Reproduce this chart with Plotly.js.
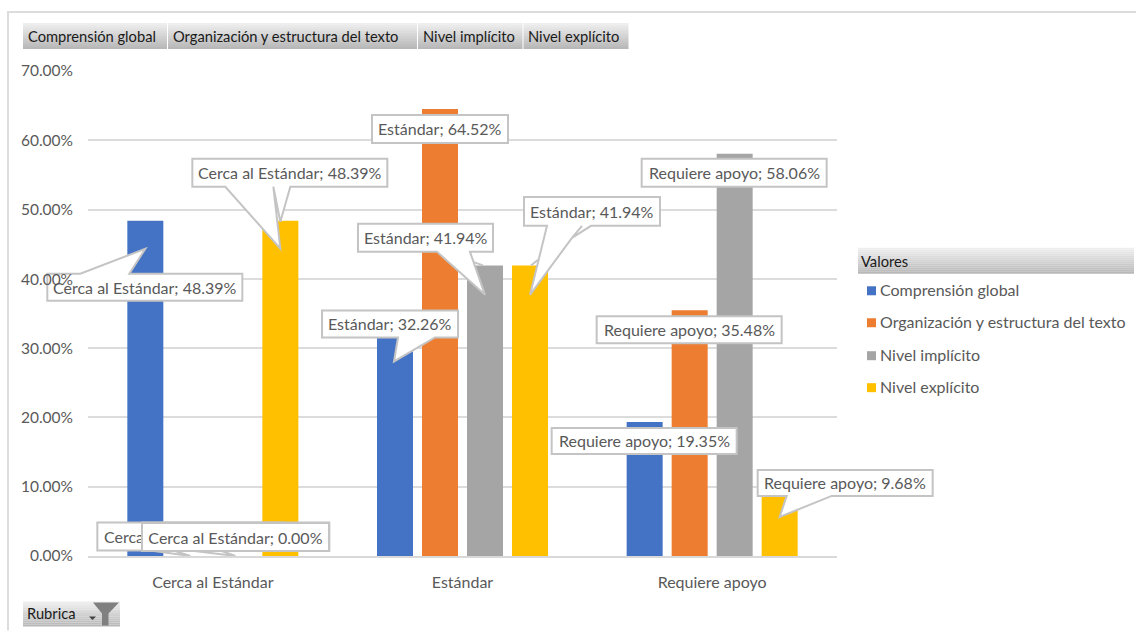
<!DOCTYPE html>
<html>
<head>
<meta charset="utf-8">
<script src="https://cdn.plot.ly/plotly-3.0.1.min.js"></script>
<style>html,body{margin:0;padding:0;background:#fff;overflow:hidden}#chart{width:1136px;height:631px}</style>
</head>
<body>
<div id="chart"></div>
<script>
// Rubric categories and per-series percentages
const categories = ['Cerca al Estándar', 'Estándar', 'Requiere apoyo'];
const seriesNames = ['Comprensión global', 'Organización y estructura del texto', 'Nivel implícito', 'Nivel explícito'];
const comprension = [48.39, 32.26, 19.35];
const organizacion = [0, 64.52, 35.48];
const implicito = [0, 41.94, 58.06];
const explicito = [48.39, 41.94, 9.68];
const yTicks = [0, 10, 20, 30, 40, 50, 60, 70];
const seriesColors = ['#4472c4', '#ed7d31', '#a5a5a5', '#ffc000'];

const allValues = [comprension, organizacion, implicito, explicito];
const fontFamily = 'Lato, "Open Sans", sans-serif';
const grey = '#595959';
const edge = '#c4c4c4';
const calloutSize = 16;

// Plot-area box in page pixels
const plot = {l: 88, r: 837, t: 71, b: 556.5};
const toPaperX = x => (x - plot.l) / (plot.r - plot.l);
const toPaperY = y => (plot.b - y) / (plot.b - plot.t);
const barGap = 0.279, groupGap = 0.2;
const barCenter = (c, s) => (c + 0.5 + (s - 1.5) * (1 - barGap) / 4) / categories.length;

// Callouts: series, category, box [left, right, top, bottom], pointer points on the
// top or bottom edge and an optional loose leader stroke, all as pixel offsets from
// the top-centre of the bar (y grows downwards here).
const callouts = [
  {s: 0, c: 0, box: [-98, 97, 53, 80], top: [[-65, 53], [0, 28], [-16, 53]]},
  {s: 3, c: 0, box: [-88, 107, -62, -34], bottom: [[10, -34], [0, 1], [-7, -34], [0, 28], [-55, -34]]},
  {s: 1, c: 0, box: [-93, 94, -33.5, -5.5], bottom: [[-17, -5.5], [0, 0], [-40, -5.5]]},
  {s: 2, c: 0, box: [-93, 94, -33.5, -5.5], bottom: [[-15, -5.5], [0, 0], [-45, -5.5]], opaque: true},
  {s: 0, c: 1, box: [-73, 63, -22, 5], bottom: [[40, 5], [-1, 29], [3, 5]]},
  {s: 1, c: 1, box: [-68, 68, 6, 34]},
  {s: 2, c: 1, box: [-127, 8, -41.6, -13.6], bottom: [[-15, -13.6], [0, 29.4], [-48, -13.6]], leader: [[-12, -3.6], [-2, 0]]},
  {s: 3, c: 1, box: [-6, 130, -68.3, -39.6], bottom: [[61, -39.6], [42, -27.6], [52, -39.6], [42, -27.6], [0, 29.4], [17, -39.6]], leader: [[1, 0], [8, -5.6]]},
  {s: 0, c: 2, box: [-93, 92, 6, 32]},
  {s: 1, c: 2, box: [-93, 92, 6, 33]},
  {s: 2, c: 2, box: [-93, 92, 5, 33]},
  {s: 3, c: 2, box: [-22, 153, -19, 7], bottom: [[52, 7], [0, 28], [7, 7]]}
];

const shapes = [];
const annotations = [];

// Sheet frame along the top and left edges
shapes.push({type: 'path', xref: 'paper', yref: 'paper',
  path: `M${toPaperX(1136)},${toPaperY(12)}L${toPaperX(8)},${toPaperY(12)}L${toPaperX(8)},${toPaperY(631)}`,
  line: {color: '#dcdcdc', width: 2}, layer: 'below'});

function gradientButton(x0, x1, y0, y1) {
  const bands = 13;
  for (let i = 0; i < bands; i++) {
    const t = i / (bands - 1);
    const v = Math.round(238 - t * 54);
    shapes.push({type: 'rect', xref: 'paper', yref: 'paper', layer: 'below',
      x0: toPaperX(x0), x1: toPaperX(x1),
      y0: toPaperY(y0 + (y1 - y0) * i / bands), y1: toPaperY(y0 + (y1 - y0) * (i + 1) / bands),
      fillcolor: `rgb(${v},${v},${v})`, line: {width: 0}});
  }
}
function plainText(text, x, y, color, size) {
  annotations.push({text, xref: 'paper', yref: 'paper', x: toPaperX(x), y: toPaperY(y),
    xanchor: 'left', yanchor: 'middle', showarrow: false, borderpad: 0,
    font: {family: fontFamily, size, color}});
}

// Pivot field buttons above the plot
const fieldButtons = [[23, 167], [168, 417], [418, 522.5], [523.5, 628.5]];
fieldButtons.forEach((b, i) => {
  gradientButton(b[0], b[1], 23, 49);
  plainText(seriesNames[i], b[0] + 3.5, 36, '#1a1a1a', 14.7);
});

// Legend header and entries
gradientButton(858, 1134, 248, 274);
plainText('Valores', 860, 261, '#1a1a1a', 14.7);
const legendRows = [291, 323, 356, 388];
seriesNames.forEach((name, i) => {
  const y = legendRows[i];
  shapes.push({type: 'rect', xref: 'paper', yref: 'paper',
    x0: toPaperX(867), x1: toPaperX(876), y0: toPaperY(y - 4.5), y1: toPaperY(y + 4.5),
    fillcolor: seriesColors[i], line: {width: 0}});
  plainText(name, 879, y - 1, grey, 16);
});

// Report filter button with its drop-down mark and funnel
gradientButton(23, 120, 602, 627);
plainText('Rubrica', 26, 614, '#1a1a1a', 14.7);
shapes.push({type: 'path', xref: 'paper', yref: 'paper', fillcolor: '#404040', line: {width: 0},
  path: `M${toPaperX(89)},${toPaperY(617)}L${toPaperX(96)},${toPaperY(617)}L${toPaperX(92.5)},${toPaperY(620.5)}Z`});
shapes.push({type: 'path', xref: 'paper', yref: 'paper', fillcolor: '#808080', line: {width: 0},
  path: [[93, 603], [119, 603], [108.5, 614], [108.5, 626], [102, 626], [102, 614]]
    .map((p, i) => (i ? 'L' : 'M') + toPaperX(p[0]) + ',' + toPaperY(p[1])).join('') + 'Z'});

// Data callouts, anchored on each bar's value
const toPath = pts => pts.map((p, i) => (i ? 'L' : 'M') + p[0] + ',' + (-p[1])).join('');
callouts.forEach(k => {
  const v = allValues[k.s][k.c];
  const ax = barCenter(k.c, k.s);
  const [l, r, t, b] = k.box;
  const anchored = {type: 'path', xref: 'paper', yref: 'y', xsizemode: 'pixel', ysizemode: 'pixel', xanchor: ax, yanchor: v};
  if (k.leader) {
    shapes.push(Object.assign({}, anchored, {path: toPath(k.leader), line: {color: edge, width: 2}}));
  }
  const outline = [[l, t], ...(k.top || []), [r, t], [r, b], ...(k.bottom || []), [l, b]];
  shapes.push(Object.assign({}, anchored, {path: toPath(outline) + 'Z', fillcolor: '#ffffff', line: {color: edge, width: 2}}));
  const note = {
    text: categories[k.c] + '; ' + v.toFixed(2) + '%',
    xref: 'paper', yref: 'y', x: ax, y: v, xanchor: 'center', yanchor: 'middle',
    xshift: (l + r) / 2, yshift: -(t + b) / 2, showarrow: false, borderpad: 0,
    font: {family: fontFamily, size: calloutSize, color: grey}
  };
  if (k.opaque) {
    Object.assign(note, {bgcolor: '#ffffff', bordercolor: edge, borderwidth: 2, width: r - l - 2, height: b - t - 2});
  }
  annotations.push(note);
});

// The 40% tick label stays legible on top of the callout that reaches over it
annotations.unshift({text: '40.00%', xref: 'paper', yref: 'y', x: toPaperX(74), y: 40, xanchor: 'right', yanchor: 'middle',
  showarrow: false, borderpad: 0, font: {family: fontFamily, size: 15.5, color: grey}});

const traces = seriesNames.map((name, i) => ({
  type: 'bar', name, x: categories, y: allValues[i],
  marker: {color: seriesColors[i], line: {width: 0}}, hoverinfo: 'skip'
}));

const layout = {
  width: 1136, height: 631,
  margin: {l: plot.l, r: 1136 - plot.r, t: plot.t, b: 631 - plot.b, pad: 0},
  paper_bgcolor: '#ffffff', plot_bgcolor: '#ffffff',
  barmode: 'group', bargap: barGap, bargroupgap: groupGap,
  showlegend: false, hovermode: false,
  font: {family: fontFamily, color: grey},
  xaxis: {type: 'category', categoryorder: 'array', categoryarray: categories, fixedrange: true,
    showgrid: false, showline: true, linecolor: '#d9d9d9', linewidth: 2, ticks: '',
    ticklabelstandoff: 11, tickfont: {family: fontFamily, size: 16, color: grey}},
  yaxis: {range: [0, 70], fixedrange: true, tickmode: 'array', tickvals: yTicks,
    ticktext: yTicks.map(t => t === 40 ? '' : t.toFixed(2) + '%'),
    showgrid: true, gridcolor: '#dcdcdc', gridwidth: 2, zeroline: false, showline: false, ticks: '',
    ticklabelstandoff: 14, tickfont: {family: fontFamily, size: 15.5, color: grey}},
  shapes, annotations
};

Plotly.newPlot('chart', traces, layout, {displayModeBar: false, staticPlot: true});
</script>
</body>
</html>
